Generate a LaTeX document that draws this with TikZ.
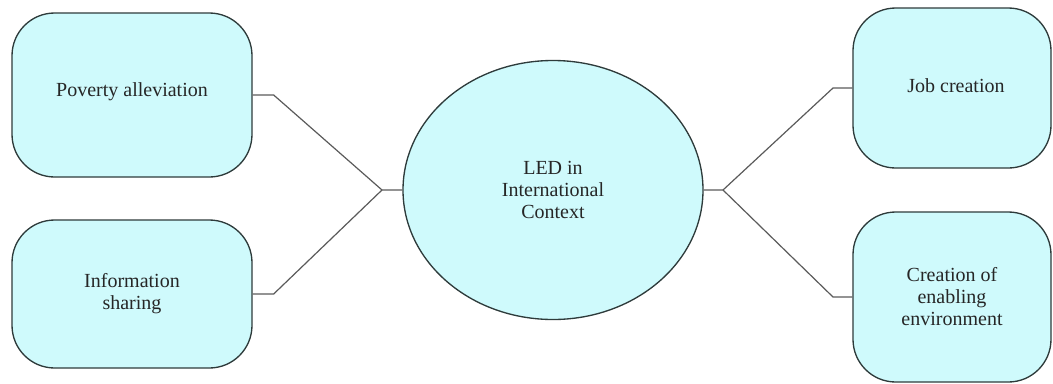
\documentclass[tikz,border=0pt]{standalone}
\usepackage{fontspec}
\setmainfont{Liberation Serif}
\newfontfamily\tnr{Liberation Serif}
\usetikzlibrary{shapes.geometric}
\definecolor{boxfill}{HTML}{CFFAFC}
\definecolor{boxline}{HTML}{2E3B3B}
\definecolor{conn}{HTML}{5A5A5A}
\begin{document}
\begin{tikzpicture}[x=0.75pt,y=-0.75pt,
  every node/.style={font=\tnr\fontsize{15}{16.5}\selectfont, align=center, text=black!85},
  roundbox/.style={draw=boxline, line width=1pt, fill=boxfill, rectangle, rounded corners=32pt, inner sep=0pt},
  hub/.style={draw=boxline, line width=1pt, fill=boxfill, ellipse, inner sep=0pt, minimum width=300*0.75pt, minimum height=259*0.75pt},
  link/.style={draw=conn, line width=0.9pt}]
\useasboundingbox (0,0) rectangle (1053,383);
\node[roundbox, minimum width=240*0.75pt, minimum height=164*0.75pt] (pov) at (132,95) {};
\node at (132,92) {Poverty alleviation};
\node[roundbox, minimum width=240*0.75pt, minimum height=148*0.75pt] (info) at (132,294) {Information\\sharing};
\node[roundbox, minimum width=198*0.75pt, minimum height=160*0.75pt] (job) at (952,88) {};
\node at (956,86) {Job creation};
\node[roundbox, minimum width=198*0.75pt, minimum height=170*0.75pt] (env) at (952,297) {Creation of\\enabling\\environment};
\node[hub] (led) at (553,190) {LED in\\International\\Context};
\coordinate (jl) at (382,190);
\coordinate (jr) at (723,190);
\draw[link] (pov.east) -- ++(21,0) -- (jl) -- (led.west);
\draw[link] (info.east) -- ++(21,0) -- (jl);
\draw[link] (led.east) -- (jr) -- (833,88) -- (job.west);
\draw[link] (jr) -- (833,297) -- (env.west);
\end{tikzpicture}
\end{document}
